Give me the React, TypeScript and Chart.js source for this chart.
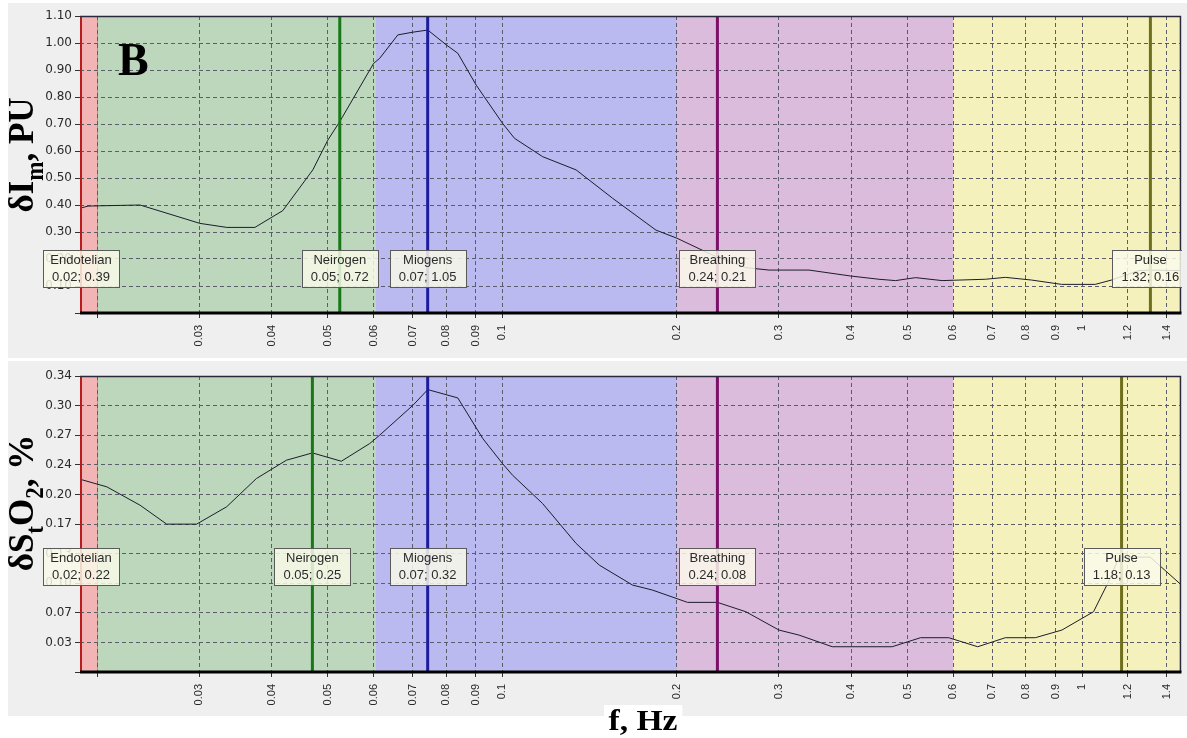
import React, { useEffect, useRef } from 'react';
import { Chart, registerables } from 'chart.js';
Chart.register(...registerables);

// ---------- data ----------
const X_MIN = 0.01867;
const X_MAX = 1.4784;

const xTickValues = [0.02, 0.03, 0.04, 0.05, 0.06, 0.07, 0.08, 0.09, 0.1, 0.2, 0.3, 0.4, 0.5, 0.6, 0.7, 0.8, 0.9, 1, 1.2, 1.4];
const xTickLabels = ['', '0.03', '0.04', '0.05', '0.06', '0.07', '0.08', '0.09', '0.1', '0.2', '0.3', '0.4', '0.5', '0.6', '0.7', '0.8', '0.9', '1', '1.2', '1.4'];

const topYTickValues = [0, 0.1, 0.2, 0.3, 0.4, 0.5, 0.6, 0.7, 0.8, 0.9, 1.0, 1.1];
const topYTickLabels = ['', '0.10', '0.20', '0.30', '0.40', '0.50', '0.60', '0.70', '0.80', '0.90', '1.00', '1.10'];

const botYTickValues = [0, 0.03375, 0.0675, 0.10125, 0.135, 0.16875, 0.2025, 0.23625, 0.27, 0.30375, 0.3375];
const botYTickLabels = ['', '0.03', '0.07', '0.10', '0.13', '0.17', '0.20', '0.24', '0.27', '0.30', '0.34'];

const bandStarts = [X_MIN, 0.02, 0.0605, 0.2, 0.6];
const bandEnds = [0.02, 0.0605, 0.2, 0.6, X_MAX];
const bandColors = ['#f2b4b4', '#bcd7bc', '#babaf0', '#dcbcdc', '#f4f1bd'];

const markerNames = ['Endotelian', 'Neirogen', 'Miogens', 'Breathing', 'Pulse'];
const markerColors = ['#b81c1c', '#187818', '#1c1c9c', '#7a1068', '#6e6e1c'];
const markerWidths = [2, 3, 3, 3, 3];

const topMarkerFreqs = [0.01867, 0.0524, 0.0743, 0.2349, 1.312];
const topMarkerLabels = ['0.02; 0.39', '0.05; 0.72', '0.07; 1.05', '0.24; 0.21', '1.32; 0.16'];
const botMarkerFreqs = [0.01867, 0.047, 0.0743, 0.2349, 1.17];
const botMarkerLabels = ['0.02; 0.22', '0.05; 0.25', '0.07; 0.32', '0.24; 0.08', '1.18; 0.13'];

const topFreqs = [0.01867, 0.01928, 0.02021, 0.0237, 0.03006, 0.03346, 0.0374, 0.04178, 0.04708, 0.04996, 0.0524, 0.05996, 0.0614, 0.066, 0.07, 0.07434, 0.08, 0.08375, 0.0901, 0.1, 0.1049, 0.1173, 0.134, 0.1549, 0.184, 0.2, 0.2302, 0.263, 0.2884, 0.3248, 0.338, 0.3988, 0.4462, 0.4767, 0.5161, 0.5735, 0.6812, 0.7373, 0.8185, 0.9218, 1.0537, 1.124, 1.2513, 1.3122, 1.4784];
const topValues = [0.388, 0.396, 0.397, 0.4, 0.332, 0.317, 0.317, 0.379, 0.53, 0.64, 0.709, 0.925, 0.943, 1.03, 1.04, 1.048, 0.993, 0.962, 0.844, 0.703, 0.647, 0.579, 0.53, 0.425, 0.307, 0.277, 0.215, 0.168, 0.159, 0.159, 0.159, 0.137, 0.125, 0.12, 0.131, 0.12, 0.125, 0.132, 0.122, 0.106, 0.106, 0.122, 0.157, 0.159, 0.157];

const botFreqs = [0.01867, 0.02077, 0.0237, 0.02634, 0.02967, 0.03342, 0.03763, 0.0424, 0.04701, 0.05273, 0.05902, 0.0614, 0.07007, 0.07434, 0.08375, 0.09249, 0.1, 0.1041, 0.1173, 0.134, 0.1469, 0.1677, 0.1815, 0.2086, 0.2349, 0.263, 0.3, 0.3248, 0.3707, 0.4703, 0.5264, 0.5888, 0.6607, 0.7373, 0.8306, 0.9229, 1.0467, 1.1108, 1.1557, 1.1948, 1.3108, 1.48];
const botValues = [0.2198, 0.2111, 0.1902, 0.1686, 0.1686, 0.1883, 0.2206, 0.2415, 0.2498, 0.2403, 0.2605, 0.27, 0.3041, 0.322, 0.3125, 0.2662, 0.2377, 0.2244, 0.1921, 0.1466, 0.1219, 0.0991, 0.0934, 0.0794, 0.0794, 0.0687, 0.0478, 0.0421, 0.0288, 0.0288, 0.0391, 0.0391, 0.0288, 0.0391, 0.0391, 0.0478, 0.0687, 0.1029, 0.1295, 0.131, 0.131, 0.0999];

type Part = { t: string; sub?: boolean };
const topTitle: Part[] = [{ t: 'δI' }, { t: 'm', sub: true }, { t: ', PU' }];
const botTitle: Part[] = [{ t: 'δS' }, { t: 't', sub: true }, { t: 'O' }, { t: '2', sub: true }, { t: ', %' }];

// ---------- drawing helpers ----------
function drawRotatedRich(ctx: CanvasRenderingContext2D, parts: Part[], cx: number, cy: number, size: number, sx: number) {
  ctx.save();
  ctx.translate(cx, cy);
  ctx.scale(sx, 1);
  ctx.rotate(-Math.PI / 2);
  ctx.fillStyle = '#000';
  ctx.textBaseline = 'alphabetic';
  ctx.textAlign = 'left';
  const fontFor = (p: Part) => `bold ${p.sub ? Math.round(size * 0.65) : size}px "Liberation Serif", "Times New Roman", serif`;
  let total = 0;
  const widths = parts.map((p) => {
    ctx.font = fontFor(p);
    const w = ctx.measureText(p.t).width;
    total += w;
    return w;
  });
  let x = -total / 2;
  parts.forEach((p, i) => {
    ctx.font = fontFor(p);
    ctx.fillText(p.t, x, p.sub ? size * 0.28 : 0);
    x += widths[i];
  });
  ctx.restore();
}

type PanelCfg = {
  freqs: number[];
  values: number[];
  yMax: number;
  yTicks: number[];
  yLabels: string[];
  markerFreqs: number[];
  markerLabels: string[];
  title: Part[];
  titleX: number;
  titleY: number;
  topPad: number;
  xAxisH: number;
  boxTop: number;
  drawB: boolean;
};

function makePlugin(cfg: PanelCfg) {
  return {
    id: 'panelDeco',
    beforeDraw(chart: any) {
      const { ctx, chartArea } = chart;
      const xs = chart.scales.x;
      ctx.save();
      bandStarts.forEach((s, i) => {
        const x0 = xs.getPixelForValue(s);
        const x1 = xs.getPixelForValue(bandEnds[i]);
        ctx.fillStyle = bandColors[i];
        ctx.fillRect(x0, chartArea.top, x1 - x0, chartArea.bottom - chartArea.top);
      });
      ctx.strokeStyle = 'rgba(120,120,120,0.6)';
      ctx.lineWidth = 1;
      const xb = Math.round(xs.getPixelForValue(0.02)) + 0.5;
      ctx.beginPath();
      ctx.moveTo(xb, chartArea.top);
      ctx.lineTo(xb, chartArea.bottom);
      ctx.stroke();
      ctx.restore();
    },
    afterDatasetsDraw(chart: any) {
      const { ctx, chartArea } = chart;
      const xs = chart.scales.x;
      ctx.save();
      cfg.markerFreqs.forEach((f, i) => {
        const x = xs.getPixelForValue(f) + (i === 0 ? 1 : 0);
        ctx.strokeStyle = markerColors[i];
        ctx.lineWidth = markerWidths[i];
        ctx.beginPath();
        ctx.moveTo(x, chartArea.top);
        ctx.lineTo(x, chartArea.bottom);
        ctx.stroke();
      });
      ctx.restore();
    },
    afterDraw(chart: any) {
      const { ctx, chartArea } = chart;
      const xs = chart.scales.x;
      ctx.save();
      ctx.strokeStyle = '#2a2a3c';
      ctx.lineWidth = 1.5;
      ctx.beginPath();
      ctx.moveTo(chartArea.left, chartArea.top + 0.5);
      ctx.lineTo(chartArea.right, chartArea.top + 0.5);
      ctx.lineTo(chartArea.right, chartArea.bottom);
      ctx.stroke();
      ctx.strokeStyle = '#000';
      ctx.lineWidth = 3;
      ctx.beginPath();
      ctx.moveTo(chartArea.left, chartArea.bottom);
      ctx.lineTo(chartArea.right + 1, chartArea.bottom);
      ctx.stroke();

      ctx.save();
      ctx.beginPath();
      ctx.rect(0, 0, chartArea.right + 1.5, chart.height);
      ctx.clip();
      const bw = 76;
      const bh = 37;
      const by = cfg.boxTop;
      cfg.markerFreqs.forEach((f, i) => {
        const cx = xs.getPixelForValue(f) + (i === 0 ? 1 : 0);
        const bx = Math.round(cx - bw / 2) + 0.5;
        ctx.fillStyle = 'rgba(250,250,234,0.84)';
        ctx.fillRect(bx, by + 0.5, bw, bh);
        ctx.strokeStyle = '#5a5a5a';
        ctx.lineWidth = 1;
        ctx.strokeRect(bx, Math.round(by) + 0.5, bw, bh);
        ctx.fillStyle = '#2a2a2a';
        ctx.font = '13px "Liberation Sans", Arial, sans-serif';
        ctx.textAlign = 'center';
        ctx.textBaseline = 'middle';
        ctx.fillText(markerNames[i], cx, by + 10.5);
        ctx.fillText(cfg.markerLabels[i], cx, by + 27);
      });
      ctx.restore();

      drawRotatedRich(ctx, cfg.title, cfg.titleX, cfg.titleY, 35, 1.05);

      if (cfg.drawB) {
        ctx.fillStyle = '#000';
        ctx.font = 'bold 46px "Liberation Serif", "Times New Roman", serif';
        ctx.textAlign = 'left';
        ctx.textBaseline = 'alphabetic';
        ctx.fillText('B', 110, 72);
      }
      ctx.restore();
    },
  };
}

function createPanel(canvas: HTMLCanvasElement, cfg: PanelCfg) {
  const tickFont = { family: '"Liberation Sans", Arial, sans-serif', size: 11 };
  const yFont = { family: '"DejaVu Sans", Verdana, sans-serif', size: 12 };
  return new Chart(canvas, {
    type: 'line',
    data: {
      datasets: [
        {
          data: cfg.freqs.map((f, i) => ({ x: f, y: cfg.values[i] })),
          borderColor: '#1c1c2c',
          borderWidth: 1,
          pointRadius: 0,
          tension: 0,
          fill: false,
        },
      ],
    },
    options: {
      responsive: false,
      maintainAspectRatio: false,
      animation: false,
      events: [],
      layout: { padding: { top: cfg.topPad, right: 5, bottom: 0, left: 0 } },
      plugins: { legend: { display: false }, tooltip: { enabled: false }, title: { display: false } },
      scales: {
        x: {
          type: 'logarithmic',
          min: X_MIN,
          max: X_MAX,
          afterFit: (s: any) => {
            s.height = cfg.xAxisH;
          },
          afterBuildTicks: (s: any) => {
            s.ticks = xTickValues.map((v) => ({ value: v }));
          },
          ticks: {
            autoSkip: false,
            minRotation: 90,
            maxRotation: 90,
            padding: 7,
            color: '#2a2a2a',
            font: tickFont,
            callback: (_v: any, i: number) => xTickLabels[i],
          },
          grid: { color: '#5c5c6a', lineWidth: 1, drawTicks: true, tickLength: 5, tickColor: '#333' },
          border: { display: false, dash: [4, 3] },
        },
        y: {
          type: 'linear',
          min: 0,
          max: cfg.yMax,
          afterFit: (s: any) => {
            s.width = 72;
          },
          afterBuildTicks: (s: any) => {
            s.ticks = cfg.yTicks.map((v) => ({ value: v }));
          },
          ticks: {
            autoSkip: false,
            padding: 3,
            color: '#2a2a2a',
            font: yFont,
            callback: (_v: any, i: number) => cfg.yLabels[i],
          },
          grid: { color: '#5c5c6a', lineWidth: 1, drawTicks: true, tickLength: 5, tickColor: '#333' },
          border: { display: false, dash: [4, 3] },
        },
      },
    } as any,
    plugins: [makePlugin(cfg)],
  });
}

export default function App() {
  const topRef = useRef<HTMLCanvasElement>(null);
  const botRef = useRef<HTMLCanvasElement>(null);

  useEffect(() => {
    const top = createPanel(topRef.current!, {
      freqs: topFreqs,
      values: topValues,
      yMax: 1.1,
      yTicks: topYTickValues,
      yLabels: topYTickLabels,
      markerFreqs: topMarkerFreqs,
      markerLabels: topMarkerLabels,
      title: topTitle,
      titleX: 25,
      titleY: 152,
      topPad: 13,
      xAxisH: 45,
      boxTop: 247,
      drawB: true,
    });
    const bot = createPanel(botRef.current!, {
      freqs: botFreqs,
      values: botValues,
      yMax: 0.3375,
      yTicks: botYTickValues,
      yLabels: botYTickLabels,
      markerFreqs: botMarkerFreqs,
      markerLabels: botMarkerLabels,
      title: botTitle,
      titleX: 25,
      titleY: 142,
      topPad: 15,
      xAxisH: 44,
      boxTop: 187,
      drawB: false,
    });
    return () => {
      top.destroy();
      bot.destroy();
    };
  }, []);

  return (
    <div style={{ position: 'absolute', left: 0, top: 0, width: 1187, height: 738, background: '#ffffff', overflow: 'hidden' }}>
      <canvas ref={topRef} width={1179} height={355} style={{ position: 'absolute', left: 8, top: 3, width: 1179, height: 355, background: '#efefef' }} />
      <canvas ref={botRef} width={1179} height={355} style={{ position: 'absolute', left: 8, top: 361, width: 1179, height: 355, background: '#efefef' }} />
      <div
        style={{
          position: 'absolute',
          left: 604,
          top: 705,
          padding: '0 4px',
          background: '#ffffff',
          fontFamily: '"Liberation Serif", "Times New Roman", serif',
          fontWeight: 'bold',
          fontSize: 30,
          lineHeight: '30px',
          whiteSpace: 'nowrap',
          transform: 'scaleX(1.12)',
          transformOrigin: 'left top',
        }}
      >
        f, Hz
      </div>
    </div>
  );
}
